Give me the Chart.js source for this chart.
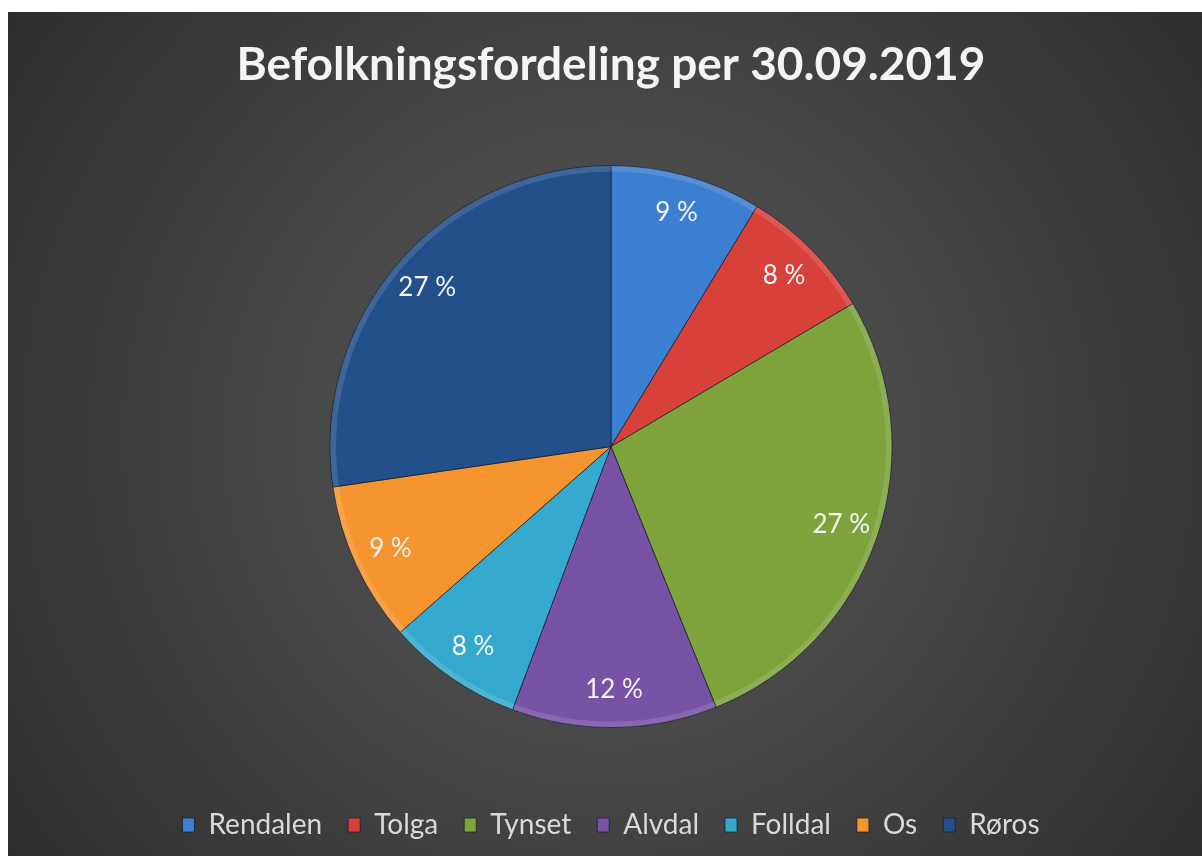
<!DOCTYPE html>
<html>
<head>
<meta charset="utf-8">
<script src="https://cdn.jsdelivr.net/npm/chart.js@4/dist/chart.umd.min.js"></script>
<style>
  html, body { margin: 0; padding: 0; background: #ffffff; }
  #wrap { position: absolute; left: 8px; top: 12px; width: 1194px; height: 844px; }
</style>
</head>
<body>
<div id="wrap"><canvas id="c" width="1194" height="844"></canvas></div>
<script>
const titleText = 'Befolkningsfordeling per 30.09.2019';
const categories = ['Rendalen', 'Tolga', 'Tynset', 'Alvdal', 'Folldal', 'Os', 'Røros'];
const shares = [8.7, 7.8, 27.4, 11.8, 7.8, 9.2, 27.3];
const sliceColors = ['#3b7fd0', '#d8403a', '#7ea23c', '#7752a5', '#35a9cd', '#f6952f', '#23508a'];

const bgPlugin = {
  id: 'bg',
  beforeDraw(chart) {
    const ctx = chart.ctx;
    const w = chart.width, h = chart.height;
    ctx.save();
    const g = ctx.createRadialGradient(600, 425, 0, 600, 425, 820);
    g.addColorStop(0, '#565656');
    g.addColorStop(0.4, '#474747');
    g.addColorStop(1, '#282828');
    ctx.fillStyle = g;
    ctx.fillRect(0, 0, w, h);
    ctx.restore();
  }
};

const bevelPlugin = {
  id: 'bevel',
  afterDatasetsDraw(chart) {
    const ctx = chart.ctx;
    const meta = chart.getDatasetMeta(0);
    meta.data.forEach((arc) => {
      const p = arc.getProps(['x', 'y', 'startAngle', 'endAngle', 'outerRadius'], true);
      ctx.save();
      ctx.beginPath();
      ctx.moveTo(p.x, p.y);
      ctx.arc(p.x, p.y, p.outerRadius, p.startAngle, p.endAngle);
      ctx.closePath();
      ctx.clip();
      ctx.beginPath();
      ctx.arc(p.x, p.y, p.outerRadius - 3, p.startAngle, p.endAngle);
      ctx.lineWidth = 6;
      ctx.strokeStyle = 'rgba(255,255,255,0.13)';
      ctx.stroke();
      ctx.restore();
    });
  }
};

const labelPlugin = {
  id: 'sliceLabels',
  afterDatasetsDraw(chart) {
    const ctx = chart.ctx;
    const meta = chart.getDatasetMeta(0);
    const data = chart.data.datasets[0].data;
    const total = data.reduce((a, b) => a + b, 0);
    ctx.save();
    ctx.font = '26px Lato';
    ctx.fillStyle = '#f4f4f4';
    ctx.textAlign = 'center';
    ctx.textBaseline = 'middle';
    meta.data.forEach((arc, i) => {
      const p = arc.getProps(['x', 'y', 'startAngle', 'endAngle', 'outerRadius'], true);
      const mid = (p.startAngle + p.endAngle) / 2;
      const r = p.outerRadius * 0.865;
      const x = p.x + Math.cos(mid) * r;
      const y = p.y + Math.sin(mid) * r;
      ctx.fillText(Math.round(data[i] / total * 100) + ' %', x, y);
    });
    ctx.restore();
  }
};

new Chart(document.getElementById('c'), {
  type: 'pie',
  data: {
    labels: categories,
    datasets: [{
      data: shares,
      backgroundColor: sliceColors,
      borderColor: 'rgba(20,30,45,0.7)',
      borderWidth: 1
    }]
  },
  options: {
    responsive: false,
    animation: false,
    radius: 281,
    layout: { padding: { left: 12, top: 0, bottom: 7, right: 0 } },
    plugins: {
      title: {
        display: true,
        text: titleText,
        color: '#f4f4f4',
        font: { family: 'Lato', size: 46, weight: 'bold' },
        padding: { top: 26, bottom: 15 }
      },
      legend: {
        position: 'bottom',
        labels: {
          color: '#d9d9d9',
          font: { family: 'Lato', size: 28 },
          boxWidth: 12,
          boxHeight: 14,
          padding: 26
        }
      },
      tooltip: { enabled: false }
    }
  },
  plugins: [bgPlugin, bevelPlugin, labelPlugin]
});
</script>
</body>
</html>
